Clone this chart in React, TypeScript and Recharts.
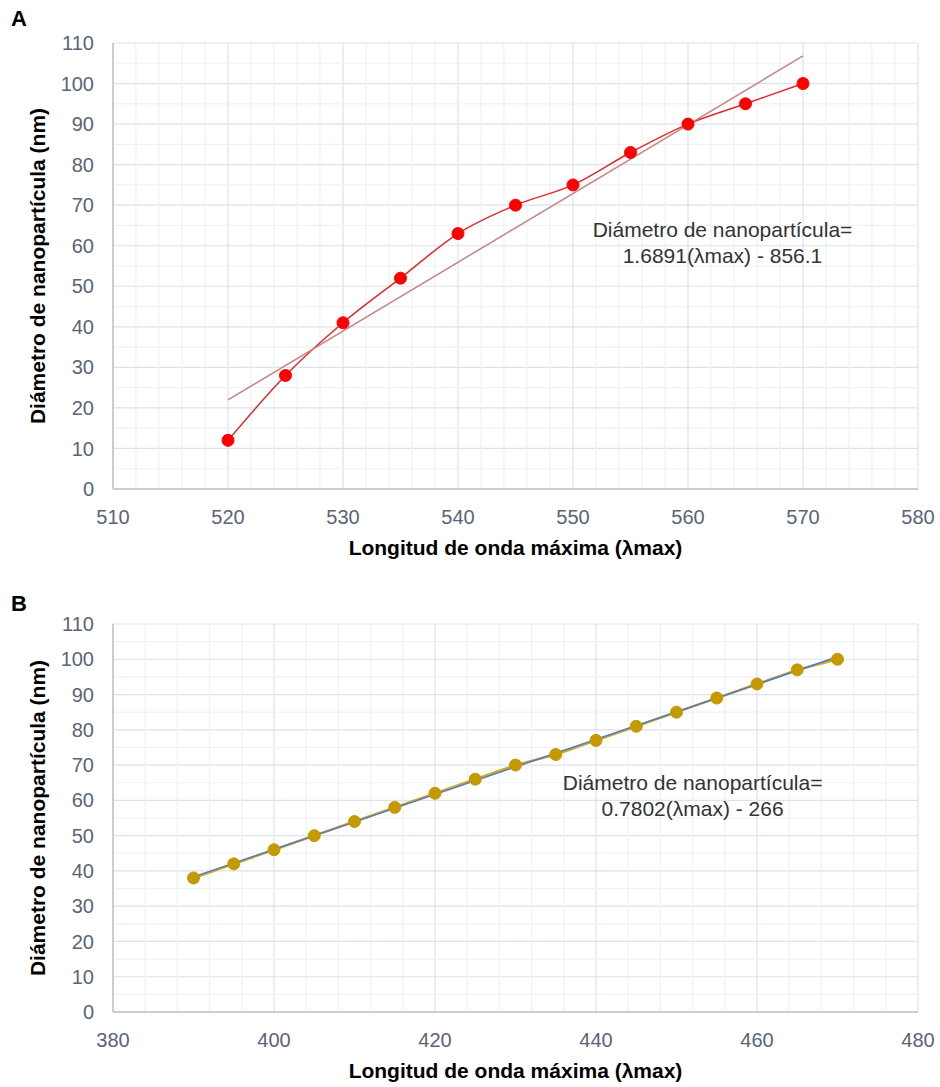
import { ComposedChart, Line, XAxis, YAxis, CartesianGrid, ReferenceLine, ReferenceDot } from 'recharts';

// Panel A: 520-570 nm
const lambdaA = [520, 525, 530, 535, 540, 545, 550, 555, 560, 565, 570];
const diamA = [12, 28, 41, 52, 63, 70, 75, 83, 90, 95, 100];
const trendLambdaA = [520, 570];
const trendDiamA = [22, 106.8];
const xTicksA = [510, 520, 530, 540, 550, 560, 570, 580];
const xMinorA = [512, 514, 516, 518, 522, 524, 526, 528, 532, 534, 536, 538, 542, 544, 546, 548, 552, 554, 556, 558, 562, 564, 566, 568, 572, 574, 576, 578];

// Panel B: 390-470 nm
const lambdaB = [390, 395, 400, 405, 410, 415, 420, 425, 430, 435, 440, 445, 450, 455, 460, 465, 470];
const diamB = [38, 42, 46, 50, 54, 58, 62, 66, 70, 73, 77, 81, 85, 89, 93, 97, 100];
const trendLambdaB = [390, 470];
const trendDiamB = [38.3, 100.7];
const xTicksB = [380, 400, 420, 440, 460, 480];
const xMinorB = [384, 388, 392, 396, 404, 408, 412, 416, 424, 428, 432, 436, 444, 448, 452, 456, 464, 468, 472, 476];

const yTicks = [0, 10, 20, 30, 40, 50, 60, 70, 80, 90, 100, 110];
const yMinor = [5, 15, 25, 35, 45, 55, 65, 75, 85, 95, 105];

const FONT = '"Liberation Sans", Arial, sans-serif';
const TICK = { fill: '#5a6478', fontSize: 20, fontFamily: FONT };

const toPoints = (xs: number[], ys: number[]) => xs.map((x, i) => ({ x, y: ys[i] }));

function EquationLabel({ viewBox, lines }: any) {
  const cx = viewBox.x + viewBox.width / 2;
  const cy = viewBox.y + viewBox.height / 2;
  return (
    <g>
      <text x={cx} y={cy - 5} textAnchor="middle" fontSize={21} fontFamily={FONT} fill="#333">{lines[0]}</text>
      <text x={cx} y={cy + 21} textAnchor="middle" fontSize={21} fontFamily={FONT} fill="#333">{lines[1]}</text>
    </g>
  );
}

function Panel(props: any) {
  const { height, marginTop, axisHeight, domain, ticks, minor, data, trend, color, markerColor, trendColor, smooth, eq, eqX, eqY } = props;
  return (
    <ComposedChart width={940} height={height} margin={{ top: marginTop, right: 22, bottom: 0, left: 0 }}>
      <CartesianGrid stroke="#dde1ea" strokeWidth={1.2} />
      {minor.map((v: number) => <ReferenceLine key={'mx' + v} x={v} stroke="#eff1f5" strokeWidth={1.2} />)}
      {yMinor.map((v: number) => <ReferenceLine key={'my' + v} y={v} stroke="#eff1f5" strokeWidth={1.2} />)}
      <XAxis
        type="number" dataKey="x" domain={domain} ticks={ticks} allowDataOverflow
        axisLine={{ stroke: '#b9c3d3', strokeWidth: 1.5 }} tickLine={false} tick={TICK} tickMargin={15} height={axisHeight}
        label={{
          content: ({ viewBox }: any) => (
            <text x={viewBox.x + viewBox.width / 2} y={viewBox.y + 66} textAnchor="middle" fontSize={21} fontWeight="bold" fontFamily={FONT} fill="#000">
              Longitud de onda máxima (λmax)
            </text>
          ),
        }}
      />
      <YAxis
        type="number" dataKey="y" domain={[0, 110]} ticks={yTicks} width={113}
        axisLine={{ stroke: '#b9c3d3', strokeWidth: 1.5 }} tickLine={false} tick={TICK} tickMargin={13}
        label={{
          content: ({ viewBox }: any) => {
            const lx = 37;
            const ly = viewBox.y + viewBox.height / 2;
            return (
              <text x={lx} y={ly} transform={`rotate(-90, ${lx}, ${ly})`} textAnchor="middle" dominantBaseline="central" fontSize={21} fontWeight="bold" fontFamily={FONT} fill="#000">
                Diámetro de nanopartícula (nm)
              </text>
            );
          },
        }}
      />
      {smooth ? (
        <>
          <Line data={data} dataKey="y" type="monotone" stroke={color} strokeWidth={1.5} dot={{ r: 6, fill: markerColor, stroke: markerColor, strokeWidth: 1 }} isAnimationActive={false} />
          <Line data={trend} dataKey="y" type="linear" stroke={trendColor} strokeWidth={1.5} dot={false} isAnimationActive={false} />
        </>
      ) : (
        <>
          <Line data={data} dataKey="y" type="linear" stroke={color} strokeWidth={2.5} dot={{ r: 6, fill: markerColor, stroke: markerColor, strokeWidth: 1 }} isAnimationActive={false} />
          <Line data={trend} dataKey="y" type="linear" stroke={trendColor} strokeWidth={1.5} dot={false} isAnimationActive={false} />
        </>
      )}
      <ReferenceDot x={eqX} y={eqY} r={1} fill="none" stroke="none" label={{ content: (p: any) => <EquationLabel {...p} lines={eq} /> }} />
    </ComposedChart>
  );
}

export default function App() {
  return (
    <div style={{ position: 'absolute', left: 0, top: 0, width: 940, height: 1087, background: '#fff', fontFamily: FONT }}>
      <div style={{ position: 'absolute', left: 11, top: 6, fontSize: 22, fontWeight: 'bold', color: '#000' }}>A</div>
      <div style={{ position: 'absolute', left: 11, top: 591, fontSize: 22, fontWeight: 'bold', color: '#000' }}>B</div>
      <div style={{ position: 'absolute', left: 0, top: 0 }}>
        <Panel
          height={580} marginTop={43} axisHeight={91}
          domain={[510, 580]} ticks={xTicksA} minor={xMinorA}
          data={toPoints(lambdaA, diamA)} trend={toPoints(trendLambdaA, trendDiamA)}
          color="#e02a2a" markerColor="#ff0000" trendColor="#c98282" smooth
          eq={['Diámetro  de nanopartícula=', '1.6891(λmax)  - 856.1']} eqX={563} eqY={61}
        />
      </div>
      <div style={{ position: 'absolute', left: 0, top: 580 }}>
        <Panel
          height={507} marginTop={44} axisHeight={75}
          domain={[380, 480]} ticks={xTicksB} minor={xMinorB}
          data={toPoints(lambdaB, diamB)} trend={toPoints(trendLambdaB, trendDiamB)}
          color="#d4a81c" markerColor="#c49a00" trendColor="#4a7bd0" smooth={false}
          eq={['Diámetro  de nanopartícula=', '0.7802(λmax)  - 266']} eqX={452} eqY={61.5}
        />
      </div>
    </div>
  );
}
